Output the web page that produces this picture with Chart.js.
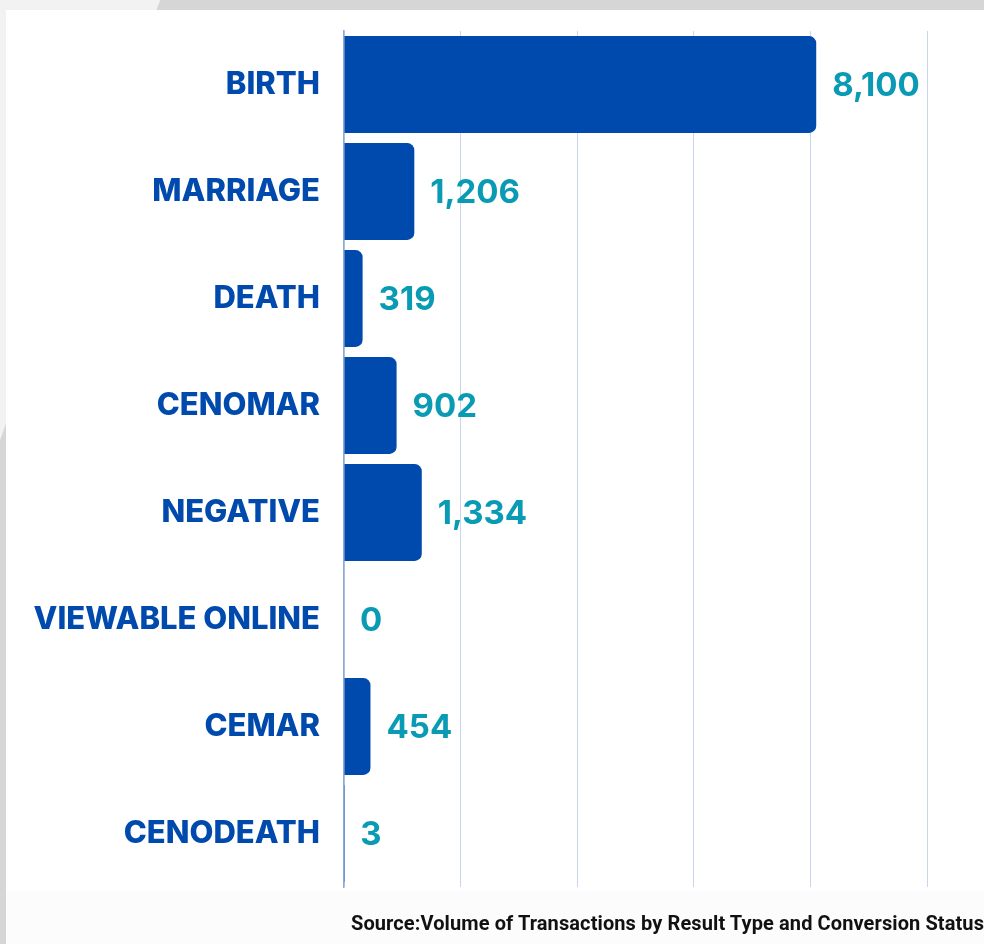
<!DOCTYPE html>
<html>
<head>
<meta charset="utf-8">
<script src="https://cdn.jsdelivr.net/npm/chart.js@4"></script>
<style>
  html, body { margin: 0; padding: 0; }
  body {
    width: 984px; height: 944px; overflow: hidden; position: relative;
    background: linear-gradient(110deg, #f2f2f2 0px, #f2f2f2 150px, #d6d6d6 151px, #d6d6d6 100%);
  }
  #panel {
    position: absolute; left: 6px; top: 10px; width: 978px; height: 934px;
    background: linear-gradient(#ffffff 0px, #ffffff 880px, #fcfcfc 881px);
  }
  #wrap { position: absolute; left: 0; top: 0; width: 984px; height: 944px; }
  #source {
    position: absolute; left: 351px; top: 911px; white-space: nowrap; letter-spacing: 0.1px;
    font-family: "Roboto", sans-serif; font-weight: 700; font-size: 20px; color: #111;
  }
</style>
</head>
<body>
<div id="panel"></div>
<div id="wrap"><canvas id="chart" width="984" height="944"></canvas></div>
<div id="source">Source:Volume of Transactions by Result Type and Conversion Status</div>
<script>
// categorias e valores
const categories = ["BIRTH", "MARRIAGE", "DEATH", "CENOMAR", "NEGATIVE", "VIEWABLE ONLINE", "CEMAR", "CENODEATH"];
const volumes = [8100, 1206, 319, 902, 1334, 0, 454, 3];
const axisMax = 10000;
const axisStep = 2000;

// escreve o valor logo depois do fim de cada barra
const valueLabels = {
    id: "valueLabels",
    afterDatasetsDraw(chart) {
        const ctx = chart.ctx;
        const meta = chart.getDatasetMeta(0);
        ctx.save();
        ctx.font = "700 33px Inter";
        ctx.fillStyle = "#0a9bb4";
        ctx.textAlign = "left";
        ctx.textBaseline = "middle";
        meta.data.forEach(function (bar, i) {
            ctx.fillText(volumes[i].toLocaleString("en-US"), bar.x + 16, bar.y + 2);
        });
        ctx.restore();
    }
};

const ctx = document.getElementById("chart").getContext("2d");
new Chart(ctx, {
    type: "bar",
    data: {
        labels: categories,
        datasets: [
            {
                data: volumes,
                backgroundColor: "#004aad",
                borderRadius: 7,
                borderSkipped: "start",
                barPercentage: 0.905,
                categoryPercentage: 1
            }
        ]
    },
    options: {
        indexAxis: "y",
        responsive: false,
        animation: false,
        layout: { padding: { left: 0, right: 57, top: 31, bottom: 57 } },
        scales: {
            x: {
                min: 0,
                max: axisMax,
                ticks: { display: false, stepSize: axisStep },
                grid: { color: "#c8d5ec", lineWidth: 1, drawTicks: false },
                border: { display: false },
                afterFit: function (scale) { scale.height = 0; }
            },
            y: {
                grid: { display: false },
                border: { display: true, color: "#8eaad8", width: 1.5 },
                ticks: {
                    color: "#004aad",
                    padding: 16,
                    font: { family: "Inter", weight: 800, size: 31, lineHeight: 0.5 }
                },
                afterFit: function (scale) { scale.width = 344; }
            }
        },
        plugins: {
            legend: { display: false },
            tooltip: { enabled: false }
        }
    },
    plugins: [valueLabels]
});
</script>
</body>
</html>
